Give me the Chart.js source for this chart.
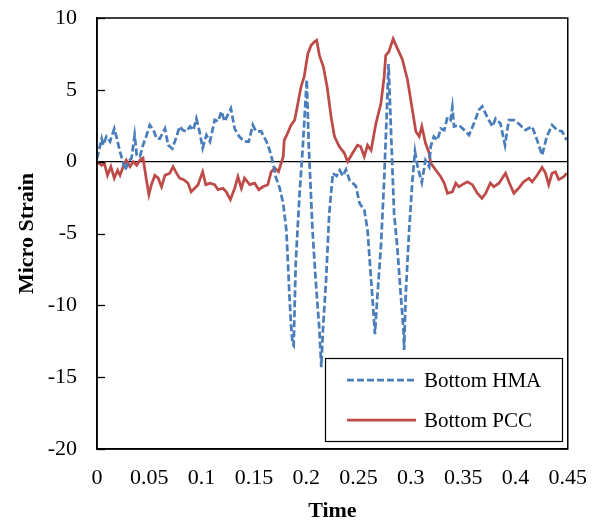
<!DOCTYPE html>
<html>
<head>
<meta charset="utf-8">
<script src="https://cdn.jsdelivr.net/npm/chart.js@4/dist/chart.umd.min.js"></script>
<style>
    html, body { margin: 0; padding: 0; background: #fff; }
    #wrap { width: 603px; height: 526px; }
</style>
</head>
<body>
<div id="wrap"><canvas id="strainChart" width="603" height="526"></canvas></div>
<script>
// Bottom HMA strain readings (time in s, micro strain)
const timeHMA = [0.000, 0.0045, 0.006, 0.009, 0.0125, 0.0165, 0.019, 0.022, 0.027, 0.030, 0.033, 0.036, 0.038, 0.041, 0.044, 0.047, 0.0505, 0.054, 0.057, 0.060,
    0.065, 0.068, 0.072, 0.076, 0.079, 0.082, 0.0855, 0.089, 0.092, 0.095, 0.098, 0.101, 0.1046, 0.108, 0.1125, 0.1157, 0.119, 0.122, 0.125, 0.128,
    0.1316, 0.136, 0.141, 0.145, 0.149, 0.152, 0.157, 0.162, 0.165, 0.168, 0.171, 0.1745, 0.178, 0.181, 0.1825, 0.184, 0.1856, 0.187, 0.188, 0.190,
    0.1935, 0.1967, 0.2005, 0.2025, 0.206, 0.209, 0.2126, 0.2144, 0.216, 0.219, 0.222, 0.2255, 0.229, 0.232, 0.235, 0.238, 0.2415, 0.2475, 0.251, 0.2555,
    0.2586, 0.262, 0.2643, 0.2657, 0.268, 0.2714, 0.2745, 0.277, 0.2787, 0.281, 0.284, 0.287, 0.2905, 0.293, 0.2936, 0.295, 0.2984, 0.3015, 0.304, 0.3065,
    0.3105, 0.314, 0.3175, 0.319, 0.322, 0.3254, 0.3286, 0.332, 0.335, 0.338, 0.3397, 0.3413, 0.346, 0.351, 0.3556, 0.3603, 0.365, 0.3683, 0.373, 0.378,
    0.381, 0.3857, 0.390, 0.3937, 0.3985, 0.403, 0.4096, 0.416, 0.4207, 0.4255, 0.430, 0.435, 0.440, 0.4446, 0.449];
const strainHMA = [0.2, 1.6, 1.15, 1.75, 1.4, 2.3, 1.6, 0.7, -0.6, 0.0, 0.25, 1.85, 0.45, 0.35, 1.15, 1.75, 2.55, 2.2, 1.6, 1.6,
    2.3, 1.15, 0.9, 1.75, 2.45, 2.2, 2.1, 2.45, 2.2, 3.0, 2.1, 0.95, 1.85, 1.4, 2.9, 2.8, 3.5, 2.8, 3.25, 3.7,
    2.3, 1.75, 1.4, 1.4, 2.55, 2.1, 2.1, 1.4, 0.8, 0.0, -1.1, -1.8, -2.9, -4.75, -7.0, -9.4, -11.5, -12.7, -12.8, -7.0,
    -2.4, 1.0, 5.7, 1.0, -4.75, -8.2, -11.7, -14.3, -11.7, -8.2, -3.6, -0.8, -1.0, -0.6, -1.0, -0.55, -1.3, -1.7, -2.9, -3.35,
    -4.75, -8.2, -10.5, -12.0, -9.4, -5.9, -1.3, 3.4, 6.8, 2.2, -3.6, -5.9, -9.4, -11.7, -13.1, -9.4, -4.75, -1.3, 0.7, -0.35,
    -1.45, 0.1, -0.35, 1.05, 1.75, 1.5, 2.3, 2.2, 3.1, 2.9, 3.8, 2.45, 2.55, 2.2, 1.85, 2.65, 3.6, 3.85, 3.1, 2.45,
    3.0, 2.65, 1.15, 2.9, 2.9, 2.65, 2.2, 2.45, 1.5, 0.45, 1.75, 2.55, 2.2, 2.1, 1.5];

// Bottom PCC strain readings
const timePCC = [0.000, 0.0045, 0.007, 0.010, 0.0133, 0.0165, 0.0197, 0.022, 0.025, 0.028, 0.0315, 0.0346, 0.038, 0.041, 0.044, 0.047, 0.0496, 0.052, 0.0553, 0.0585,
    0.0617, 0.065, 0.0696, 0.0727, 0.076, 0.079, 0.083, 0.087, 0.090, 0.0934, 0.0966, 0.101, 0.104, 0.108, 0.1125, 0.1157, 0.1205, 0.1235, 0.1275, 0.1316,
    0.1347, 0.138, 0.141, 0.146, 0.1507, 0.1547, 0.1585, 0.1633, 0.1665, 0.170, 0.1735, 0.178, 0.179, 0.182, 0.1856, 0.189, 0.192, 0.195, 0.198, 0.2015,
    0.2047, 0.2078, 0.210, 0.2126, 0.2164, 0.220, 0.2237, 0.227, 0.2316, 0.2364, 0.2396, 0.2444, 0.249, 0.252, 0.2555, 0.2586, 0.262, 0.2666, 0.2714, 0.2745,
    0.276, 0.279, 0.2831, 0.287, 0.292, 0.2968, 0.3015, 0.3048, 0.308, 0.3105, 0.314, 0.3175, 0.319, 0.324, 0.3286, 0.332, 0.335, 0.3397, 0.343, 0.346,
    0.3492, 0.354, 0.3588, 0.3635, 0.368, 0.3715, 0.376, 0.3794, 0.3842, 0.3905, 0.3937, 0.3985, 0.403, 0.4078, 0.4128, 0.416, 0.4207, 0.4255, 0.4287, 0.4318,
    0.435, 0.4382, 0.4414, 0.4462, 0.449];
const strainPCC = [0.0, -0.25, -0.1, -0.95, -0.35, -1.15, -0.6, -0.95, -0.35, 0.1, -0.35, 0.0, -0.25, 0.1, 0.25, -1.15, -2.3, -1.6, -0.95, -1.15,
    -1.75, -0.95, -0.8, -0.35, -0.8, -1.15, -1.25, -1.5, -2.1, -1.85, -1.6, -0.7, -1.6, -1.5, -1.6, -1.95, -1.85, -2.1, -2.65, -1.85,
    -1.05, -1.85, -1.15, -1.6, -1.5, -1.95, -1.75, -1.6, -0.7, -0.45, -0.7, 0.35, 1.5, 1.95, 2.55, 2.9, 4.05, 5.2, 5.9, 7.5,
    8.1, 8.35, 8.45, 7.4, 6.6, 5.2, 3.15, 1.75, 1.05, 0.6, 0.0, 0.6, 1.15, 1.05, 0.35, 1.15, 0.8, 2.65, 4.05, 5.9,
    7.4, 7.65, 8.55, 7.9, 7.1, 5.7, 3.6, 2.1, 1.75, 2.45, 1.3, 0.6, -0.1, -0.6, -1.05, -1.5, -2.2, -2.1, -1.5, -1.75,
    -1.6, -1.4, -1.6, -2.2, -2.55, -2.2, -1.5, -1.75, -1.5, -0.8, -1.4, -2.2, -1.85, -1.4, -1.15, -1.4, -0.95, -0.4, -0.8, -1.6,
    -0.8, -0.7, -1.25, -1.05, -0.8];

const seriesLabels = ['Bottom HMA', 'Bottom PCC'];
const xTicks = [0, 0.05, 0.1, 0.15, 0.2, 0.25, 0.3, 0.35, 0.4, 0.45];
const yTicks = [10, 5, 0, -5, -10, -15, -20];

const blue = '#4A7EBB';
const red = '#BE4B48';
const fontFamily = '"Liberation Serif", "Times New Roman", serif';

function toPoints(xs, ys) {
    return xs.map((x, i) => ({ x: x, y: ys[i] }));
}

// frame, inward y ticks and the boxed legend
const framePlugin = {
    id: 'framePlugin',
    afterDraw(chart) {
        const ctx = chart.ctx;
        const area = chart.chartArea;
        const yScale = chart.scales.y;
        ctx.save();
        ctx.strokeStyle = '#000';
        ctx.lineWidth = 1.5;
        ctx.strokeRect(area.left, area.top, area.right - area.left, area.bottom - area.top);

        ctx.lineWidth = 1.3;
        yTicks.forEach(v => {
            const py = Math.round(yScale.getPixelForValue(v)) + 0.5;
            ctx.beginPath();
            ctx.moveTo(area.left, py);
            ctx.lineTo(area.left + 8, py);
            ctx.stroke();
        });

        // legend
        const bx = 325, by = 358, bw = 237, bh = 83;
        ctx.fillStyle = '#fff';
        ctx.fillRect(bx, by, bw, bh);
        ctx.strokeStyle = '#000';
        ctx.lineWidth = 1.2;
        ctx.strokeRect(bx + 0.5, by + 0.5, bw, bh);

        const rows = [
            { label: seriesLabels[0], color: blue, dash: [7, 3], y: by + 22 },
            { label: seriesLabels[1], color: red, dash: [], y: by + 62 }
        ];
        ctx.font = '21px ' + fontFamily;
        ctx.textBaseline = 'middle';
        rows.forEach(r => {
            ctx.strokeStyle = r.color;
            ctx.lineWidth = 2.75;
            ctx.setLineDash(r.dash);
            ctx.beginPath();
            ctx.moveTo(bx + 22, r.y);
            ctx.lineTo(bx + 91, r.y);
            ctx.stroke();
            ctx.setLineDash([]);
            ctx.fillStyle = '#000';
            ctx.fillText(r.label, bx + 99, r.y + 1);
        });
        ctx.restore();
    }
};

new Chart(document.getElementById('strainChart').getContext('2d'), {
    type: 'line',
    data: {
        datasets: [{
            label: seriesLabels[0],
            data: toPoints(timeHMA, strainHMA),
            borderColor: blue,
            borderWidth: 2.75,
            borderDash: [7, 3],
            pointRadius: 0,
            tension: 0,
            fill: false
        }, {
            label: seriesLabels[1],
            data: toPoints(timePCC, strainPCC),
            borderColor: red,
            borderWidth: 2.75,
            pointRadius: 0,
            tension: 0,
            fill: false
        }]
    },
    options: {
        responsive: false,
        animation: false,
        events: [],
        layout: { padding: { top: 18, right: 34, left: 0, bottom: 0 } },
        plugins: {
            legend: { display: false },
            tooltip: { enabled: false }
        },
        scales: {
            x: {
                type: 'linear',
                min: 0,
                max: 0.45,
                afterBuildTicks: scale => { scale.ticks = xTicks.map(v => ({ value: v })); },
                afterFit: scale => { scale.height = 77; },
                grid: { display: false, drawTicks: false },
                border: { display: true, color: '#000', width: 1.5 },
                ticks: {
                    color: '#000',
                    padding: 16,
                    maxRotation: 0,
                    autoSkip: false,
                    font: { family: fontFamily, size: 22 },
                    callback: v => String(Number(v.toFixed(2)))
                },
                title: {
                    display: true,
                    text: 'Time',
                    color: '#000',
                    padding: { top: 0, bottom: 1 },
                    font: { family: fontFamily, size: 22, weight: 'bold' }
                }
            },
            y: {
                min: -20,
                max: 10,
                afterBuildTicks: scale => { scale.ticks = yTicks.map(v => ({ value: v })); },
                afterFit: scale => {
                    scale.width = 97;
                    // tick padding otherwise pushes the plot top down
                    scale.paddingTop = 0;
                    scale.paddingBottom = 0;
                },
                grid: {
                    drawTicks: false,
                    color: c => (c.tick && c.tick.value === 0) ? '#000' : 'rgba(0,0,0,0)',
                    lineWidth: 1.3
                },
                border: { display: true, color: '#000', width: 1.5 },
                ticks: {
                    color: '#000',
                    padding: 20,
                    font: { family: fontFamily, size: 22 }
                },
                title: {
                    display: true,
                    text: 'Micro Strain',
                    color: '#000',
                    padding: { top: 14, bottom: 0 },
                    font: { family: fontFamily, size: 22, weight: 'bold' }
                }
            }
        }
    },
    plugins: [framePlugin]
});
</script>
</body>
</html>
